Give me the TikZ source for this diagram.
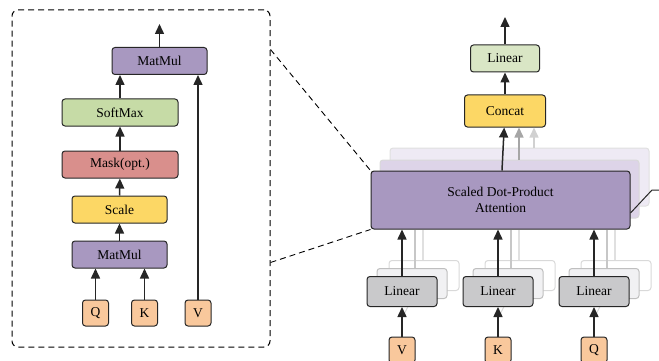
\documentclass[tikz,border=0pt]{standalone}
\usepackage{fontspec}
\setmainfont{Liberation Serif}
\usetikzlibrary{arrows.meta}
\definecolor{mmpurple}{HTML}{A898C0}
\definecolor{lay1}{HTML}{DDD4E8}
\definecolor{lay2}{HTML}{EEEAF4}
\definecolor{smgreen}{HTML}{C6DBA6}
\definecolor{lingreen}{HTML}{D9E6C5}
\definecolor{maskred}{HTML}{D98F8C}
\definecolor{scyellow}{HTML}{FCD765}
\definecolor{inorange}{HTML}{F9C89C}
\definecolor{lingray}{HTML}{C9C9CB}
\definecolor{ghostfill}{HTML}{F1F1F3}
\definecolor{boxline}{HTML}{262626}
\begin{document}
\begin{tikzpicture}[x=1pt,y=-1pt,
  box/.style={shape=rectangle, rounded corners=3pt, draw=boxline, line width=1pt, inner sep=0pt, align=center, font=\fontsize{13.5}{16}\selectfont},
  wide/.style={box, minimum width=116pt, minimum height=27pt},
  mid/.style={box, minimum width=95pt, minimum height=27pt},
  inbox/.style={box, fill=inorange, minimum width=26pt, minimum height=26pt},
  linbox/.style={box, fill=lingray, minimum width=70pt, minimum height=30pt},
  ghostA/.style={box, draw=black!25, fill=ghostfill, minimum width=70pt, minimum height=30pt},
  ghostB/.style={box, draw=black!15, fill=white, minimum width=70pt, minimum height=30pt},
  attn/.style={box, minimum width=259pt, minimum height=58pt},
  arr/.style={-{Triangle[length=10pt,width=9pt]}, line width=1.5pt, draw=boxline},
  faint/.style={line width=1.3pt, draw=black!20},
  zoomline/.style={dashed, line width=0.9pt, dash pattern=on 6pt off 4pt}]

\useasboundingbox (0,0) rectangle (659,361);

\node[box, dashed, dash pattern=on 6pt off 4pt, draw=black, minimum width=258pt, minimum height=337pt, rounded corners=6pt] (zb) at (141,178.5) {};

\node[mid, fill=mmpurple] (mm2) at (159.5,61) {MatMul};
\node[wide, fill=smgreen] (sm) at (120,112.5) {SoftMax};
\node[wide, fill=maskred] (mask) at (120,164.5) {Mask(opt.)};
\node[mid, fill=scyellow] (scale) at (119.5,209.5) {Scale};
\node[mid, fill=mmpurple] (mm1) at (119.5,254.5) {MatMul};
\node[inbox] (q1) at (95.5,313) {Q};
\node[inbox] (k1) at (144.5,313) {K};
\node[inbox] (v1) at (198,313) {V};
\coordinate (out1) at (159.5,24);

\draw[arr] (q1) -- (q1 |- mm1.south);
\draw[arr] (k1) -- (k1 |- mm1.south);
\draw[arr] (mm1) -- (scale);
\draw[arr] (scale) -- (mask);
\draw[arr] (mask) -- (sm);
\draw[arr] (sm.north) -- (sm.north |- mm2.south);
\draw[arr] (v1) -- (v1 |- mm2.south);
\draw[arr] (mm2) -- (out1);

\node[attn, draw=black!12, fill=lay2] (lay2) at (519.5,177) {};
\node[attn, draw=black!15, fill=lay1] (lay1) at (509.5,189) {};
\node[box, fill=lingreen, minimum width=69pt, minimum height=27pt] (lin) at (505,58.5) {Linear};
\node[box, fill=scyellow, minimum width=81pt, minimum height=32pt] (cat) at (505,111) {Concat};
\coordinate (out2) at (505,17);
\coordinate (gb) at (534,148);
\coordinate (ga) at (519,160);
\draw[-{Triangle[length=10pt,width=9pt]}, line width=1.5pt, draw=black!18] (gb) -- (gb |- cat.south);
\draw[-{Triangle[length=10pt,width=9pt]}, line width=1.5pt, draw=black!35] (ga) -- (ga |- cat.south);
\node[attn, fill=mmpurple] (sdpa) at (500.5,200) {Scaled Dot-Product\\Attention};

\draw[arr] (sdpa) -- (cat);
\draw[arr] (cat) -- (lin);
\draw[arr] (lin) -- (out2);

\foreach \x/\n/\t in {402/v/V, 498/k/K, 594/q/Q} {
  \node[ghostB] (g2\n) at (\x+22,275.5) {};
  \node[ghostA] (g1\n) at (\x+10,283.5) {};
  \coordinate (t2\n) at ([xshift=-1pt]g2\n.north);
  \coordinate (t1\n) at ([xshift=3pt]g1\n.north);
  \draw[faint, draw=black!12] (t2\n) -- (t2\n |- sdpa.south);
  \draw[faint, draw=black!22] (t1\n) -- (t1\n |- sdpa.south);
  \node[inbox] (\n) at (\x,350) {\t};
  \draw[line width=1pt, draw=black!15] (\x,318) -- (g1\n.south);
  \node[linbox] (lin\n) at (\x,291.5) {Linear};
  \draw[arr] (\n) -- (lin\n);
  \draw[arr] (lin\n) -- (lin\n |- sdpa.south);
}

\draw[zoomline] ([yshift=-40pt]zb.north east) -- (sdpa.north west);
\draw[zoomline] ([yshift=85pt]zb.south east) -- (sdpa.south west);
\draw[line width=1pt, draw=boxline] ([yshift=-13pt]sdpa.east) -- (652,190) -- (660,190);

\end{tikzpicture}
\end{document}
